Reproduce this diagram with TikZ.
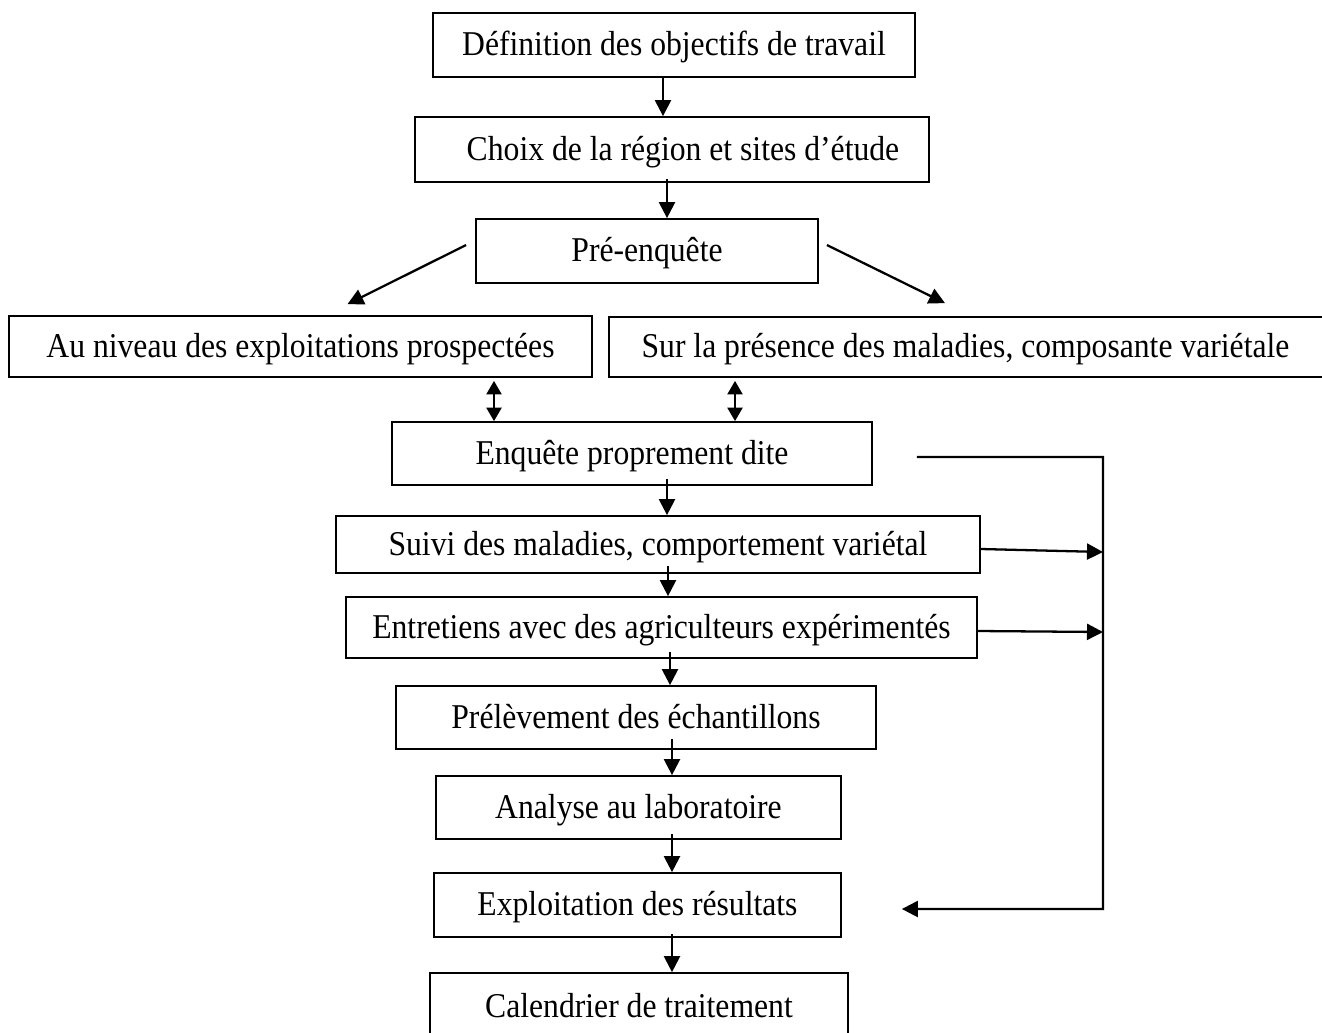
\documentclass[tikz,border=0pt]{standalone}
\usepackage{fontspec}
\setmainfont{Liberation Serif}[FakeStretch=0.91]
\usetikzlibrary{calc,arrows.meta}
\begin{document}
\begin{tikzpicture}[x=0.02cm,y=-0.02cm]
\tikzset{
  box/.style 2 args={draw, line width=1pt, inner sep=0pt,
    minimum width={#1*0.02cm}, minimum height={#2*0.02cm},
    font=\fontsize{19.8}{23}\selectfont, text height=0.52cm, text depth=0.1cm},
  arr/.style={line width=1.3pt, -{Triangle[length=0.32cm,width=0.32cm]}},
  dbl/.style={line width=1.3pt, {Triangle[length=0.27cm,width=0.3cm]}-{Triangle[length=0.27cm,width=0.3cm]}},
  bus/.style={line width=1.3pt}
}
\useasboundingbox (0,0) rectangle (1322,1032);

\node[box={482}{64}] (b1) at (674,45) {Définition des objectifs de travail};
\node[box={514}{65}] (b2) at (672,149.5) {\hspace*{0.44cm}Choix de la région et sites d’étude};
\node[box={342}{64}] (b3) at (647,251) {Pré-enquête};
\node[box={583}{61}] (b4) at (300.5,346.5) {Au niveau des exploitations prospectées};
\node[box={731}{60}] (b5) at (974.5,347) {\hspace*{-0.36cm}Sur la présence des maladies, composante variétale};
\node[box={480}{63}] (b6) at (632,453.5) {Enquête proprement dite};
\node[box={644}{57}] (b7) at (658,544.5) {Suivi des maladies, comportement variétal};
\node[box={631}{61}] (b8) at (661.5,627.5) {Entretiens avec des agriculteurs expérimentés};
\node[box={480}{63}] (b9) at (636,717.5) {Prélèvement des échantillons};
\node[box={405}{63}] (b10) at (638.5,807.5) {Analyse au laboratoire};
\node[box={407}{64}] (b11) at (637.5,905) {Exploitation des résultats};
\node[box={418}{67}] (b12) at (639,1006.5) {Calendrier de traitement};

% vertical arrows
\draw[arr] ($(b1.south)+(-11,0)$) coordinate (t) -- (t |- b2.north);
\draw[arr] ($(b2.south)+(-5,-4)$) coordinate (t) -- (t |- b3.north);
\draw[arr] ($(b6.south)+(35,-7)$) coordinate (t) -- (t |- b7.north);
\draw[arr] ($(b7.south)+(10,-8)$) coordinate (t) -- (t |- b8.north);
\draw[arr] ($(b8.south)+(8.5,-7)$) coordinate (t) -- (t |- b9.north);
\draw[arr] ($(b9.south)+(36,-11)$) coordinate (t) -- (t |- b10.north);
\draw[arr] ($(b10.south)+(33.5,-6)$) coordinate (t) -- (t |- b11.north);
\draw[arr] ($(b11.south)+(34.5,-4)$) coordinate (t) -- (t |- b12.north);

% diagonal arrows
\draw[arr] ($(b3.west)+(-9,-6)$) -- ($(b4.north)+(47,-11)$);
\draw[arr] ($(b3.east)+(8,-6)$) -- ($(b5.north)+(-29.5,-13)$);

% double arrows
\draw[dbl] ($(b4.south)+(193.5,3)$) coordinate (t) -- (t |- b6.north);
\draw[dbl] ($(b5.south)+(-239.5,3)$) coordinate (t) -- (t |- b6.north);

% right feedback bus
\coordinate (bt) at (1103,457);
\coordinate (bb) at (1103,909);
\coordinate (j1) at (1103,552);
\coordinate (j2) at (1103,632);
\draw[arr] ($(b6.east)+(44,3.5)$) -- (bt) -- (bb) -- ($(b11.east)+(60,4)$);
\draw[arr] ($(b7.east)+(0,4.5)$) -- (j1);
\draw[arr] ($(b8.east)+(0,3.5)$) -- (j2);
\end{tikzpicture}
\end{document}
